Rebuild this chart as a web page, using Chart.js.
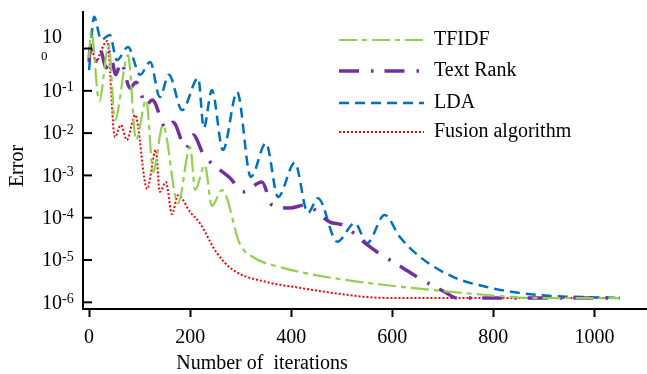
<!DOCTYPE html>
<html>
<head>
<meta charset="utf-8">
<script src="https://cdn.jsdelivr.net/npm/chart.js@4.4.1/dist/chart.umd.min.js"></script>
<style>
  html, body { margin: 0; padding: 0; background: #fff; }
</style>
</head>
<body>
<canvas id="chart" width="647" height="374"></canvas>
<script>
// tick positions
const xTicks = [0, 200, 400, 600, 800, 1000];
const yTickExps = [0, -1, -2, -3, -4, -5, -6];

// TFIDF
const tfidfIter = [0, 4, 20, 39, 51, 77, 93, 113, 127, 146, 176, 200, 210, 229, 243, 263, 299, 324, 384, 483, 582, 680, 787, 892, 1050];
const tfidfErr = [0.60, 2.7, 0.057, 1.2, 0.020, 0.70, 0.0069, 0.061, 0.0012, 0.0155, 2.2e-4, 0.0047, 4.5e-4, 0.00176, 1.9e-4, 4.5e-4, 2.3e-5, 1.18e-5, 6.5e-6, 3.75e-6, 2.6e-6, 1.95e-6, 1.49e-6, 1.26e-6, 1.26e-6];

// Text Rank
const textRankIter = [0, 2, 12, 22, 34, 41, 53, 63, 81, 93, 113, 125, 152, 166, 192, 206, 227, 239, 279, 305, 342, 362, 398, 427, 477, 502, 550, 570, 621, 649, 704, 728, 1050];
const textRankErr = [0.48, 1.08, 0.48, 0.92, 0.35, 0.83, 0.24, 0.48, 0.116, 0.16, 0.046, 0.061, 0.0132, 0.018, 0.0044, 0.0090, 0.0030, 0.0021, 8.7e-4, 4.1e-4, 7.0e-4, 2.0e-4, 1.7e-4, 2.0e-4, 7.9e-5, 6.7e-5, 2.3e-5, 1.55e-5, 6.5e-6, 4.0e-6, 1.75e-6, 1.26e-6, 1.26e-6];

// LDA
const ldaIter = [0, 10, 24, 41, 55, 77, 101, 121, 140, 158, 184, 216, 227, 243, 265, 293, 320, 350, 374, 407, 433, 453, 491, 526, 550, 585, 615, 655, 720, 787, 853, 918, 1017, 1050];
const ldaErr = [0.31, 5.6, 1.6, 2.1, 0.53, 1.08, 0.24, 0.48, 0.071, 0.24, 0.035, 0.20, 0.0132, 0.104, 0.0040, 0.094, 9.2e-4, 0.0058, 3.1e-4, 2.0e-3, 1.3e-4, 2.9e-4, 2.7e-5, 7.5e-5, 2.5e-5, 1.16e-4, 3.5e-5, 1.18e-5, 4.0e-6, 2.3e-6, 1.66e-6, 1.41e-6, 1.30e-6, 1.26e-6];

// Fusion algorithm
const fusionIter = [0, 4, 14, 24, 36, 51, 63, 75, 91, 115, 132, 140, 152, 164, 176, 200, 219, 253, 285, 352, 417, 483, 550, 615, 1050];
const fusionErr = [0.48, 1.03, 0.48, 0.92, 1.5, 0.0081, 0.0155, 0.0069, 0.027, 4.8e-4, 0.0040, 4.1e-4, 7.0e-4, 1.22e-4, 3.4e-4, 1.36e-4, 7.5e-5, 1.46e-5, 5.8e-6, 3.0e-6, 2.2e-6, 1.66e-6, 1.33e-6, 1.26e-6, 1.26e-6];

const FONT = "'Liberation Serif', 'Times New Roman', serif";

const toPoints = (xs, ys) => xs.map((x, i) => ({ x: x, y: ys[i] }));

// y tick marks (inside), y labels, axis titles and legend
const decorations = {
  id: 'decorations',
  afterDraw(chart) {
    const ctx = chart.ctx;
    const yScale = chart.scales.y;
    const area = chart.chartArea;
    ctx.save();
    ctx.fillStyle = '#000';
    ctx.strokeStyle = '#000';
    ctx.textBaseline = 'middle';

    yScale.ticks.forEach(t => {
      const py = yScale.getPixelForValue(t.value);
      const exp = Math.round(Math.log10(t.value));
      ctx.lineWidth = 2;
      ctx.beginPath();
      ctx.moveTo(area.left, py);
      ctx.lineTo(area.left + 9, py);
      ctx.stroke();

      ctx.font = `20px ${FONT}`;
      ctx.textAlign = 'right';
      if (exp === 0) {
        ctx.fillText('10', 62, py - 11);
        ctx.font = `13px ${FONT}`;
        ctx.textAlign = 'left';
        ctx.fillText('0', 41, py + 8);
      } else {
        ctx.fillText('10', 62, py + 1);
        ctx.font = `14px ${FONT}`;
        ctx.textAlign = 'left';
        ctx.fillText(String(exp), 62, py - 3);
      }
    });

    // axis titles
    ctx.font = `20px ${FONT}`;
    ctx.textAlign = 'center';
    ctx.fillText('Number of  iterations', 262, 364);
    ctx.save();
    ctx.translate(18, 166);
    ctx.rotate(-Math.PI / 2);
    ctx.fillText('Error', 0, 0);
    ctx.restore();

    // legend
    const rows = [40, 71, 103, 132];
    chart.data.datasets.forEach((ds, i) => {
      const ly = rows[i];
      ctx.save();
      ctx.strokeStyle = ds.borderColor;
      ctx.lineWidth = ds.borderWidth;
      ctx.setLineDash(ds.borderDash || []);
      ctx.beginPath();
      ctx.moveTo(339, ly);
      ctx.lineTo(424, ly);
      ctx.stroke();
      ctx.restore();
      ctx.font = `20px ${FONT}`;
      ctx.textAlign = 'left';
      ctx.fillText(ds.label, 434, ly);
    });
    ctx.restore();
  }
};

new Chart(document.getElementById('chart'), {
  type: 'line',
  data: {
    datasets: [
      {
        label: 'TFIDF',
        data: toPoints(tfidfIter, tfidfErr),
        borderColor: '#92D050',
        borderWidth: 2.2,
        borderDash: [18, 5, 5, 5]
      },
      {
        label: 'Text Rank',
        data: toPoints(textRankIter, textRankErr),
        borderColor: '#7030A0',
        borderWidth: 3.5,
        borderDash: [20, 12, 2.5, 11]
      },
      {
        label: 'LDA',
        data: toPoints(ldaIter, ldaErr),
        borderColor: '#0070C0',
        borderWidth: 2.5,
        borderDash: [10, 6]
      },
      {
        label: 'Fusion algorithm',
        data: toPoints(fusionIter, fusionErr),
        borderColor: '#FF0000',
        borderWidth: 2,
        borderDash: [2, 2]
      }
    ]
  },
  options: {
    responsive: false,
    animation: false,
    devicePixelRatio: 1,
    layout: { padding: { top: 12, left: 0, right: 0, bottom: 0 } },
    elements: {
      point: { radius: 0 },
      line: { cubicInterpolationMode: 'monotone', fill: false }
    },
    scales: {
      x: {
        type: 'linear',
        min: -12,
        max: 1104,
        afterBuildTicks: s => { s.ticks = xTicks.map(v => ({ value: v })); },
        afterFit: s => { s.height = 65; },
        border: { display: true, color: '#000', width: 2 },
        grid: { display: true, drawOnChartArea: false, drawTicks: true, tickLength: 8, tickWidth: 2, tickColor: '#000', color: '#000' },
        ticks: {
          color: '#000',
          font: { family: FONT, size: 20 },
          padding: 9,
          maxRotation: 0,
          callback: v => String(v)
        },
        title: { display: false }
      },
      y: {
        type: 'logarithmic',
        min: Math.pow(10, -6.158),
        max: Math.pow(10, 0.863),
        afterBuildTicks: s => { s.ticks = yTickExps.map(e => ({ value: Math.pow(10, e) })); },
        afterFit: s => { s.width = 83; },
        border: { display: true, color: '#000', width: 2 },
        grid: { display: true, drawOnChartArea: false, drawTicks: false, color: 'rgba(0,0,0,0)' },
        ticks: { display: false }
      }
    },
    plugins: {
      legend: { display: false },
      tooltip: { enabled: false }
    }
  },
  plugins: [decorations]
});
</script>
</body>
</html>
